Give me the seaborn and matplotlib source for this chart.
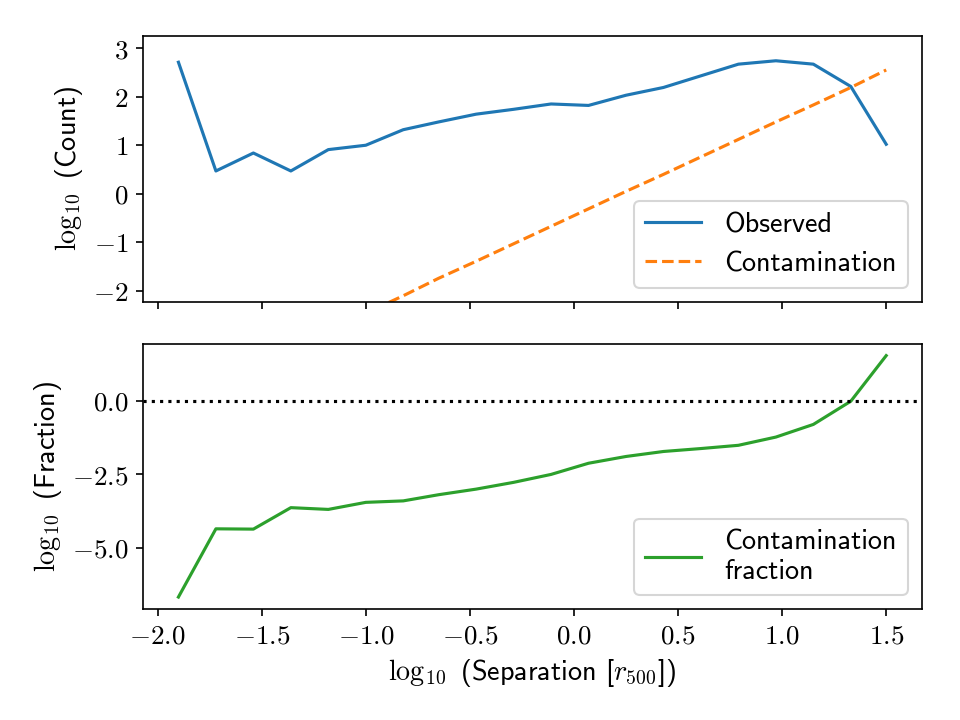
import numpy as np
import pandas as pd
import seaborn as sns
import matplotlib.pyplot as plt
from matplotlib.ticker import MultipleLocator, FuncFormatter

# data
log_sep = [-1.90, -1.72, -1.54, -1.36, -1.18, -1.00, -0.82, -0.65, -0.47, -0.29,
           -0.11, 0.07, 0.25, 0.43, 0.61, 0.79, 0.97, 1.15, 1.33, 1.50]
observed = [2.71, 0.47, 0.84, 0.47, 0.91, 1.00, 1.32, 1.48, 1.64, 1.74,
            1.85, 1.82, 2.03, 2.19, 2.43, 2.67, 2.74, 2.67, 2.21, 1.02]
contamination = [-4.25, -3.89, -3.53, -3.17, -2.82, -2.46, -2.10, -1.74, -1.39, -1.03,
                 -0.67, -0.31, 0.05, 0.40, 0.76, 1.12, 1.48, 1.83, 2.19, 2.55]
fraction = [-6.68, -4.36, -4.37, -3.64, -3.70, -3.46, -3.41, -3.20, -3.01, -2.78,
            -2.51, -2.13, -1.90, -1.73, -1.63, -1.52, -1.24, -0.81, -0.02, 1.53]

df = pd.DataFrame({
    'sep': log_sep,
    'observed': observed,
    'contamination': contamination,
    'fraction': fraction,
})

plt.rcParams['font.family'] = ['cmss10', 'DejaVu Sans']
plt.rcParams['mathtext.fontset'] = 'cm'
plt.rcParams['font.size'] = 13
plt.rcParams['axes.labelsize'] = 13.5
plt.rcParams['xtick.labelsize'] = 13
plt.rcParams['ytick.labelsize'] = 13
plt.rcParams['legend.fontsize'] = 13.5


def math_fmt(spec):
    # tick labels as mathtext so they come out in Computer Modern
    def f(v, pos):
        s = format(v + 0.0, spec)
        if s.startswith('-') and float(s) == 0:
            s = s[1:]
        return '$' + s + '$'
    return FuncFormatter(f)


fig, (ax1, ax2) = plt.subplots(2, 1, sharex=True, figsize=(6.4, 4.8), dpi=150)
fig.subplots_adjust(left=0.149, right=0.960, top=0.950, bottom=0.154, hspace=0.158)

# top panel: counts
sns.lineplot(data=df, x='sep', y='observed', ax=ax1, color='tab:blue', label='Observed')
sns.lineplot(data=df, x='sep', y='contamination', ax=ax1, color='tab:orange',
             linestyle='--', label='Contamination')
ax1.set_ylim(-2.22, 3.25)
ax1.yaxis.set_major_locator(MultipleLocator(1))
ax1.yaxis.set_major_formatter(math_fmt('.0f'))
ax1.set_ylabel(r'$\log_{10}$ (Count)')
ax1.set_xlabel('')
ax1.legend(loc='lower right')

# bottom panel: fraction
sns.lineplot(data=df, x='sep', y='fraction', ax=ax2, color='tab:green',
             label='Contamination\nfraction')
ax2.axhline(0, color='k', linestyle=':')
ax2.yaxis.set_major_locator(MultipleLocator(2.5))
ax2.yaxis.set_major_formatter(math_fmt('.1f'))
ax2.xaxis.set_major_locator(MultipleLocator(0.5))
ax2.xaxis.set_major_formatter(math_fmt('.1f'))
ax2.set_ylabel(r'$\log_{10}$ (Fraction)')
ax2.set_xlabel(r'$\log_{10}$ (Separation [$r_{500}$])')
ax2.legend(loc='lower right')

fig.savefig('out.png', dpi=150)
